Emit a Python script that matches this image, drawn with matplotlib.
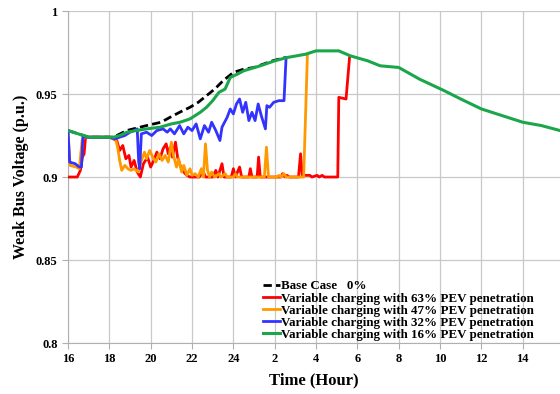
import numpy as np
import matplotlib.pyplot as plt

# Tiempo continuo en horas (16 -> 40 equivale a 16:00 -> 16:00 del día siguiente)
t_base = [16.0, 17.0, 18.2, 18.84, 19.8, 20.5, 20.94, 21.4, 21.9, 22.3, 22.7, 23.1,
          23.5, 24.0, 24.5, 25.0, 25.9, 26.5]
v_base = [0.928, 0.924, 0.924, 0.928, 0.931, 0.933, 0.936, 0.939, 0.942, 0.945, 0.949, 0.953,
          0.958, 0.963, 0.965, 0.966, 0.970, 0.972]

t_63 = [16.0, 16.45, 16.6, 16.7, 16.78, 16.85, 18.0, 18.36, 18.5, 18.65, 18.8, 18.95,
        19.05, 19.2, 19.35, 19.5, 19.65, 19.85, 20.0, 20.15, 20.3, 20.45, 20.6, 20.75,
        20.85, 20.95, 21.05, 21.2, 21.3, 21.45, 21.6, 21.75, 21.9, 22.1, 22.35, 22.55,
        22.65, 23.0, 23.15, 23.25, 23.45, 23.55, 23.9, 24.0, 24.1, 24.3, 24.4, 24.75,
        24.82, 24.9, 25.15, 25.22, 25.3, 26.3, 26.38, 26.5, 26.6, 26.7, 27.15, 27.25,
        27.33, 27.7, 27.8, 28.05, 28.15, 28.3, 28.4, 29.05, 29.1, 29.45, 29.62]
v_63 = [0.900, 0.900, 0.904, 0.912, 0.914, 0.924, 0.924, 0.922, 0.916, 0.919, 0.911, 0.913,
        0.906, 0.910, 0.903, 0.900, 0.908, 0.912, 0.906, 0.910, 0.915, 0.911, 0.917, 0.920,
        0.914, 0.918, 0.912, 0.921, 0.912, 0.906, 0.903, 0.901, 0.900, 0.900, 0.900, 0.903,
        0.900, 0.900, 0.904, 0.900, 0.908, 0.900, 0.900, 0.905, 0.900, 0.906, 0.900, 0.900,
        0.905, 0.900, 0.900, 0.912, 0.900, 0.900, 0.902, 0.900, 0.901, 0.900, 0.900, 0.914,
        0.901, 0.901, 0.900, 0.901, 0.900, 0.901, 0.900, 0.900, 0.948, 0.947, 0.972]

t_47 = [16.0, 16.1, 16.4, 16.55, 16.68, 16.8, 18.0, 18.3, 18.4, 18.5, 18.6, 18.75,
        18.9, 19.05, 19.2, 19.4, 19.55, 19.7, 19.8, 19.95, 20.1, 20.25, 20.4, 20.55,
        20.7, 20.85, 21.0, 21.1, 21.25, 21.35, 21.5, 21.6, 21.75, 21.9, 22.0, 22.15,
        22.3, 22.45, 22.55, 22.65, 22.75, 22.85, 22.95, 23.1, 23.3, 23.4, 23.6, 23.7,
        24.0, 24.1, 24.2, 25.5, 25.6, 25.7, 26.1, 26.2, 26.3, 26.45, 26.55, 27.4, 27.58]
v_47 = [0.928, 0.907, 0.906, 0.905, 0.922, 0.924, 0.924, 0.923, 0.918, 0.910, 0.904, 0.907,
        0.905, 0.904, 0.905, 0.903, 0.910, 0.915, 0.911, 0.916, 0.912, 0.909, 0.914, 0.910,
        0.913, 0.909, 0.921, 0.913, 0.906, 0.911, 0.903, 0.907, 0.901, 0.905, 0.901, 0.902,
        0.900, 0.905, 0.900, 0.920, 0.904, 0.900, 0.903, 0.900, 0.902, 0.900, 0.902, 0.900,
        0.900, 0.902, 0.900, 0.900, 0.918, 0.900, 0.900, 0.901, 0.900, 0.902, 0.900, 0.900, 0.973]

t_32 = [16.0, 16.08, 16.35, 16.55, 16.65, 16.72, 17.0, 18.0, 18.3, 18.5, 18.75, 19.0,
        19.2, 19.35, 19.42, 19.47, 19.55, 19.8, 20.05, 20.3, 20.6, 20.8, 20.95, 21.15,
        21.4, 21.6, 21.8, 22.0, 22.2, 22.4, 22.6, 22.8, 22.95, 23.15, 23.35, 23.45,
        23.7, 23.85, 24.0, 24.15, 24.3, 24.45, 24.6, 24.75, 24.9, 25.05, 25.2, 25.35,
        25.55, 25.62, 25.75, 25.95, 26.2, 26.45, 26.55]
v_32 = [0.928, 0.909, 0.908, 0.906, 0.906, 0.924, 0.924, 0.924, 0.923, 0.924, 0.925, 0.927,
        0.928, 0.929, 0.909, 0.905, 0.926, 0.927, 0.925, 0.928, 0.929, 0.927, 0.929, 0.926,
        0.931, 0.926, 0.930, 0.928, 0.932, 0.923, 0.931, 0.927, 0.933, 0.928, 0.922, 0.930,
        0.936, 0.941, 0.938, 0.944, 0.947, 0.939, 0.945, 0.934, 0.939, 0.934, 0.944, 0.937,
        0.929, 0.943, 0.942, 0.945, 0.946, 0.946, 0.972]

t_16 = [16.0, 16.5, 17.0, 18.2, 18.5, 18.85, 19.3, 19.8, 20.45, 21.0, 21.42, 21.9,
        22.4, 22.7, 23.0, 23.3, 23.6, 23.85, 24.2, 24.5, 25.3, 26.0, 26.6, 27.5,
        28.0, 29.1, 29.66, 30.5, 31.1, 32.0, 33.0, 34.2, 35.0, 36.0, 37.0, 38.0,
        38.9, 39.8]
v_16 = [0.928, 0.926, 0.924, 0.924, 0.925, 0.927, 0.928, 0.929, 0.930, 0.932, 0.933, 0.935,
        0.939, 0.942, 0.946, 0.951, 0.953, 0.960, 0.962, 0.964, 0.967, 0.970, 0.972, 0.974,
        0.976, 0.976, 0.973, 0.970, 0.967, 0.966, 0.959, 0.952, 0.947, 0.941, 0.937, 0.933,
        0.931, 0.928]

x_ticks = [16, 18, 20, 22, 24, 26, 28, 30, 32, 34, 36, 38]
x_labels = ['16', '18', '20', '22', '24', '2', '4', '6', '8', '10', '12', '14']
y_ticks = [0.8, 0.85, 0.9, 0.95, 1.0]
y_labels = ['0.8', '0.85', '0.9', '0.95', '1']

plt.rcParams['font.family'] = ['Liberation Serif', 'DejaVu Serif']
plt.rcParams['font.weight'] = 'bold'

fig = plt.figure(figsize=(5.6, 3.94), dpi=100)
ax = fig.add_axes([0.1214, 0.1294, 0.8786, 0.8426])

ax.plot(t_base, v_base, color='black', lw=2, ls=(0, (3, 1.5)), label='Base Case   0%', zorder=2)
ax.plot(t_63, v_63, color='#FF0000', lw=2, label='Variable charging with 63% PEV penetration', zorder=3)
ax.plot(t_47, v_47, color='#FF9900', lw=2, label='Variable charging with 47% PEV penetration', zorder=4)
ax.plot(t_32, v_32, color='#3333FF', lw=2, label='Variable charging with 32% PEV penetration', zorder=5)
ax.plot(t_16, v_16, color='#1BA64B', lw=2.2, label='Variable charging with 16% PEV penetration', zorder=6)

ax.set_xlim(16, 39.8)
ax.set_ylim(0.8, 1.0)
ax.set_xticks(x_ticks)
ax.set_xticklabels(x_labels)
ax.set_yticks(y_ticks)
ax.set_yticklabels(y_labels)
ax.tick_params(labelsize=9, colors='#B0B0B0', labelcolor='black', length=4, width=0.8)
ax.grid(True, color='#C8C8C8', lw=0.9)
ax.set_axisbelow(True)
for s in ['top', 'right']:
    ax.spines[s].set_visible(False)
for s in ['left', 'bottom']:
    ax.spines[s].set_color('#B0B0B0')

ax.set_xlabel('Time (Hour)', fontsize=12, fontweight='bold', labelpad=5)
ax.set_ylabel('Weak Bus Voltage (p.u.)', fontsize=11.5, fontweight='bold', labelpad=5)

ax.legend(loc='lower left', bbox_to_anchor=(263 / 560, 53 / 394), bbox_transform=fig.transFigure,
          frameon=False, fontsize=9.4, handlelength=1.3, handletextpad=0.1, labelspacing=0.0,
          borderpad=0, borderaxespad=0)

fig.savefig('out.png', dpi=100)
